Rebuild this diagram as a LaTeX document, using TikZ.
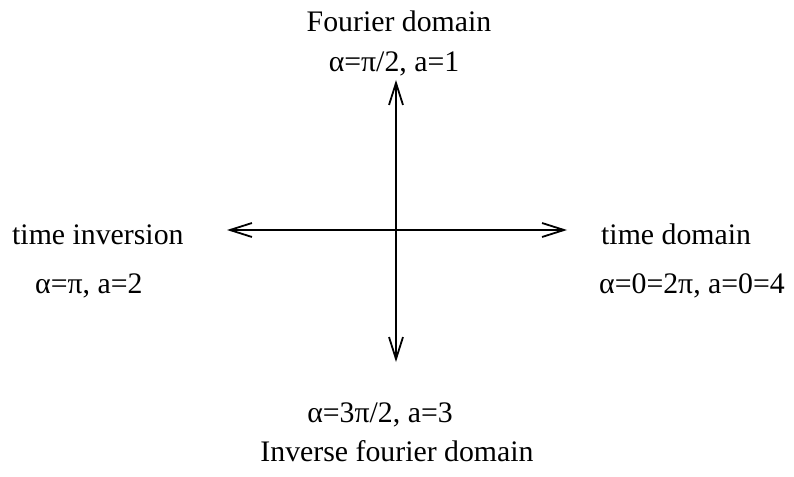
\documentclass[tikz,border=0pt]{standalone}
\usepackage{fontspec}
\setmainfont{Liberation Serif}
\usetikzlibrary{arrows.meta}
\tikzset{
  lbl/.style={anchor=base, inner sep=0pt, font=\fontsize{29.8}{36}\selectfont},
  axis/.style={line width=1.8pt, {Straight Barb[length=22pt,width=14pt,line width=1.8pt]}-{Straight Barb[length=22pt,width=14pt,line width=1.8pt]}}
}
\begin{document}
\begin{tikzpicture}[x=1pt,y=-1pt]
\useasboundingbox (0,0) rectangle (794,476);
\coordinate (top) at (396,80);
\coordinate (bot) at (396,362);
\coordinate (left) at (227,230);
\coordinate (right) at (567,230);
\draw[axis] (left) -- (right);
\draw[axis] (top) -- (bot);
\node[lbl] (f1) at (399,32) {Fourier domain};
\node[lbl] (f2) at (394,72) {α=π/2, a=1};
\node[lbl, anchor=base west] (ti1) at (12,244) {time inversion};
\node[lbl, anchor=base west] (ti2) at (35,293) {α=π, a=2};
\node[lbl, anchor=base west] (td1) at (601,244) {time domain};
\node[lbl, anchor=base west] (td2) at (599,293) {α=0=2π, a=0=4};
\node[lbl] (if1) at (380,422) {α=3π/2, a=3};
\node[lbl] (if2) at (397,461) {Inverse fourier domain};
\end{tikzpicture}
\end{document}
